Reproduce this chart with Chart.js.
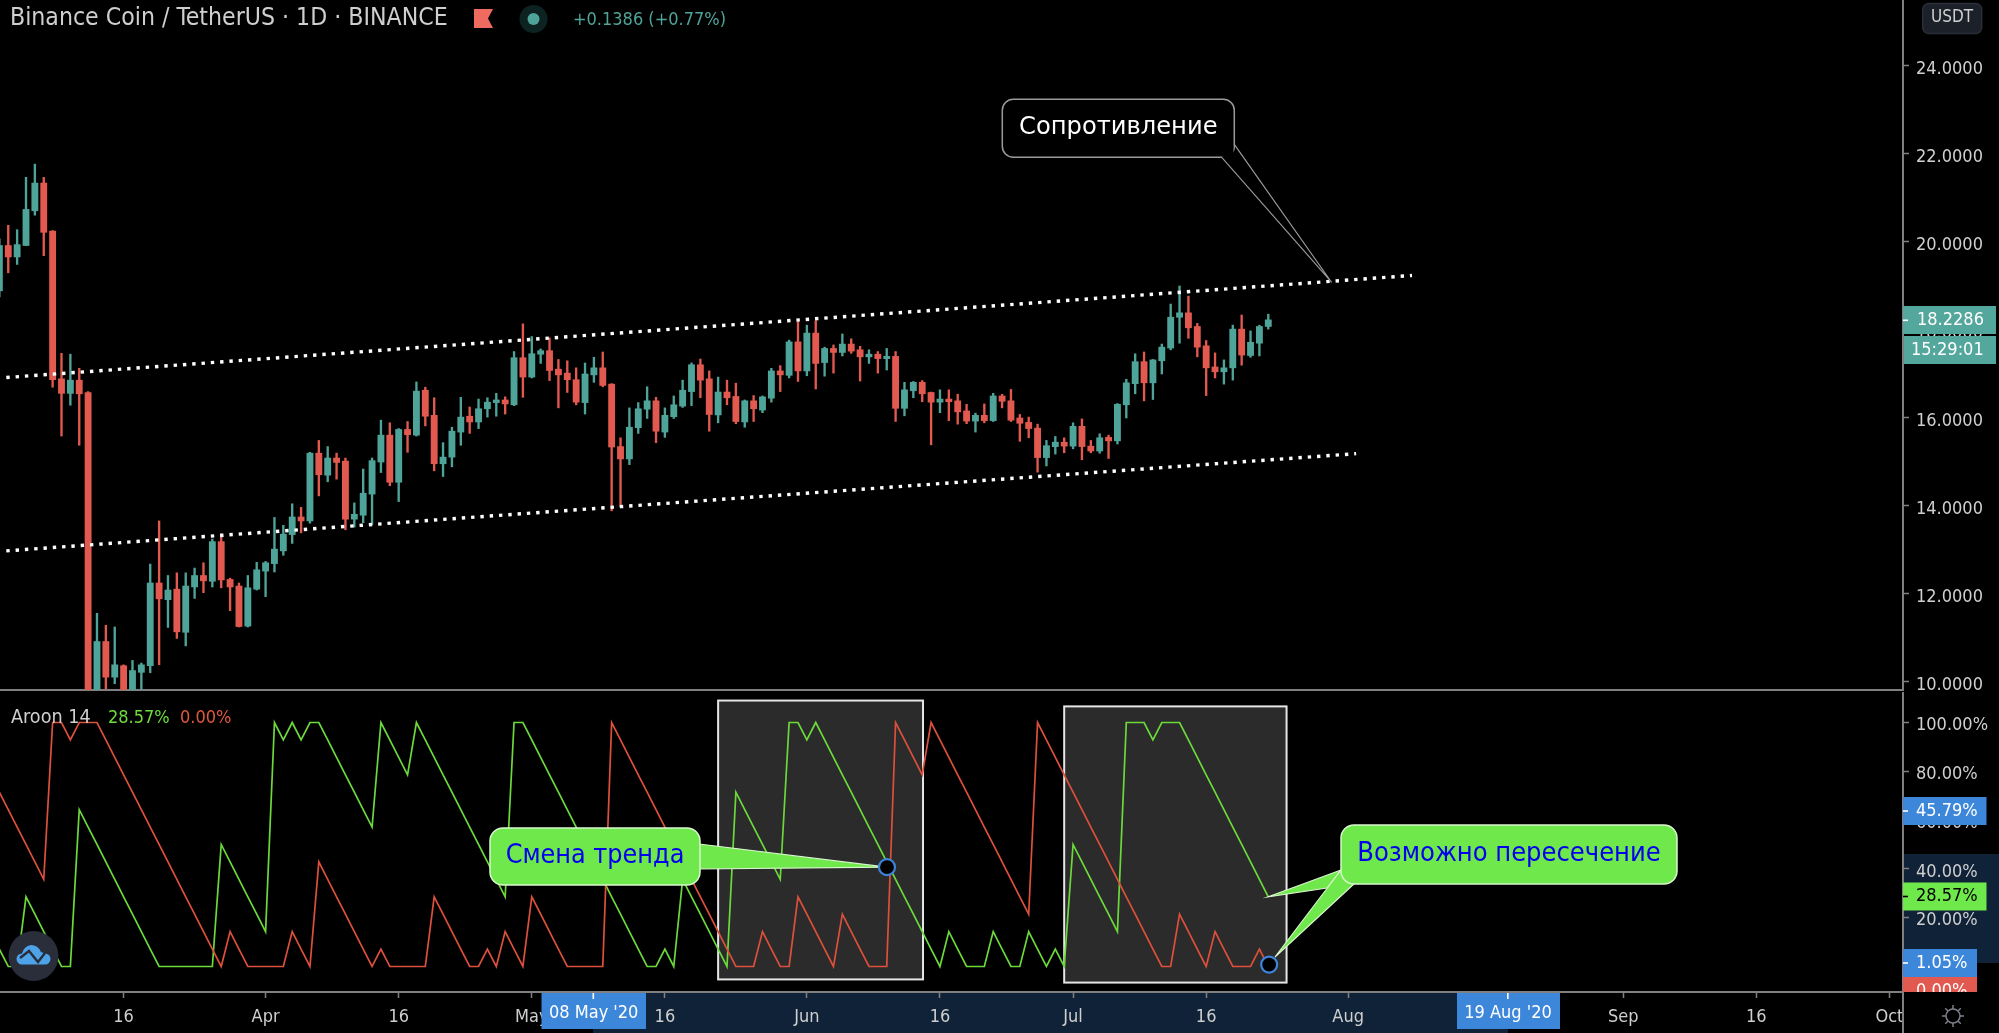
<!DOCTYPE html>
<html lang="ru">
<head>
  <meta charset="UTF-8" />
  <title>Binance Coin / TetherUS - Aroon 14</title>
  <script src="https://cdn.jsdelivr.net/npm/chart.js"></script>
  <style>
    html, body { margin: 0; padding: 0; background: #000; overflow: hidden; }
    canvas { position: absolute; left: 0; display: block; }
    #precio { top: 0; }
    #aroon { top: 692px; }
  </style>
</head>
<body>
  <canvas id="precio" width="1999" height="692"></canvas>
  <canvas id="aroon" width="1999" height="341"></canvas>

  <script>
    // days counted from 1 Apr 2020
    const days = [-30,-29,-28,-27,-26,-25,-24,-23,-22,-21,-20,-19,-18,-17,-16,-15,-14,-13,-12,-11,-10,-9,-8,-7,-6,-5,-4,-3,-2,-1,
      0,1,2,3,4,5,6,7,8,9,10,11,12,13,14,15,16,17,18,19,20,21,22,23,24,25,26,27,28,29,30,31,32,33,34,35,36,37,38,39,
      40,41,42,43,44,45,46,47,48,49,50,51,52,53,54,55,56,57,58,59,60,61,62,63,64,65,66,67,68,69,70,71,72,73,74,75,76,77,78,79,
      80,81,82,83,84,85,86,87,88,89,90,91,92,93,94,95,96,97,98,99,100,101,102,103,104,105,106,107,108,109,110,111,112,113];

    const opens = [18.89,19.92,19.66,19.92,20.71,21.34,20.25,16.89,16.56,16.86,
      16.58,8.8,10.92,10.11,10.37,9.6,10.22,10.37,12.25,11.87,
      12.11,11.13,12.16,12.42,12.29,13.19,12.33,12.18,11.27,12.11,
      12.52,12.69,12.98,13.35,13.75,13.66,15.20,14.70,15.09,15.02,
      13.70,13.79,14.27,15.00,15.61,14.54,15.74,15.61,16.63,16.06,
      14.96,15.11,15.68,16.04,15.91,16.21,16.35,16.41,16.30,17.37,
      16.93,17.45,17.53,17.11,17.02,16.87,16.35,16.98,17.14,16.77,
      15.35,15.07,15.78,16.20,16.39,15.68,16.03,16.27,16.60,17.21,
      16.89,16.07,16.59,16.49,15.91,16.39,16.18,16.45,17.07,16.97,
      17.73,17.07,17.93,17.26,17.58,17.49,17.68,17.55,17.39,17.45,
      17.35,17.40,16.22,16.62,16.81,16.58,16.36,16.43,16.39,16.16,
      15.93,16.06,15.94,16.50,16.39,16.00,15.90,15.77,15.10,15.35,
      15.45,15.36,15.81,15.36,15.25,15.56,15.48,16.30,16.78,17.28,
      16.80,17.30,17.59,18.29,18.39,18.08,17.64,17.16,17.05,17.14,
      18.02,17.42,17.70,18.08];
    const highs = [20.07,20.38,20.28,21.47,21.77,21.47,20.26,17.47,17.45,17.13,
      16.60,11.56,11.29,11.25,10.39,10.49,10.43,12.68,13.66,12.42,
      12.48,12.48,12.59,12.71,13.25,13.37,12.36,12.25,12.42,12.72,
      12.74,13.74,13.56,14.05,13.97,15.22,15.49,15.35,15.20,15.09,
      14.07,14.84,15.09,15.95,15.89,15.76,15.92,16.82,16.70,16.46,
      15.44,15.79,16.47,16.25,16.43,16.46,16.56,16.48,17.51,18.14,
      17.85,17.57,17.82,17.33,17.30,17.14,17.25,17.38,17.50,16.78,
      15.55,16.23,16.35,16.71,16.47,16.23,16.50,16.86,17.25,17.34,
      17.07,16.93,16.86,16.79,16.41,16.51,16.50,17.13,17.19,17.77,
      18.19,18.11,18.21,17.61,17.66,17.91,17.80,17.63,17.55,17.51,
      17.58,17.51,16.81,16.83,16.85,16.59,16.64,16.64,16.54,16.31,
      16.11,16.32,16.56,16.54,16.65,16.08,16.02,15.86,15.49,15.58,
      15.55,15.89,15.98,15.49,15.64,15.61,16.33,16.88,17.46,17.50,
      17.33,17.68,18.59,19.00,18.77,18.15,17.76,17.48,17.32,18.11,
      18.34,17.98,18.11,18.36];
    const lows = [18.75,19.30,19.49,19.92,20.61,19.69,16.70,15.59,16.29,15.38,
      8.0,8.4,9.84,9.96,9.4,9.3,9.6,10.21,10.39,11.24,
      10.99,10.82,11.90,12.03,12.16,12.14,11.62,11.25,11.25,12.09,
      11.94,12.50,12.88,13.15,13.39,13.61,14.23,14.55,14.61,13.46,
      13.52,13.62,13.58,14.76,14.46,14.10,15.22,15.59,15.82,14.80,
      14.67,14.89,15.38,15.65,15.76,16.02,16.04,16.09,16.28,16.47,
      16.91,17.24,16.85,16.23,16.58,16.30,16.09,16.81,16.71,13.89,
      13.98,14.94,15.65,15.99,15.44,15.56,15.99,16.24,16.28,16.46,
      15.70,15.89,16.30,15.87,15.79,15.92,16.12,16.36,16.60,16.91,
      16.83,16.96,16.66,16.95,17.02,17.41,17.47,16.84,17.24,17.02,
      17.09,15.92,16.05,16.46,16.37,15.39,16.12,15.94,15.86,15.87,
      15.68,15.89,15.92,16.23,15.92,15.47,15.55,14.77,14.91,15.18,
      15.21,15.30,15.05,15.21,15.20,15.08,15.41,16.00,16.55,16.39,
      16.42,17.00,17.55,17.70,17.81,17.39,16.51,16.91,16.77,16.86,
      17.20,17.38,17.41,18.02];
    const closes = [19.92,19.66,19.94,20.74,21.34,20.22,16.87,16.56,16.86,16.55,
      9.0,10.92,10.11,10.39,9.6,10.26,10.39,12.25,11.89,12.09,
      11.14,12.18,12.42,12.30,13.19,12.32,12.16,11.26,12.14,12.55,
      12.71,13.02,13.36,13.75,13.66,15.20,14.71,15.09,14.99,13.70,
      13.81,14.29,15.03,15.61,14.54,15.74,15.62,16.61,16.04,14.96,
      15.11,15.70,16.02,15.91,16.21,16.36,16.41,16.32,17.37,16.93,
      17.46,17.53,17.08,16.98,16.87,16.36,17.00,17.14,16.74,15.34,
      15.07,15.79,16.21,16.39,15.70,16.06,16.30,16.63,17.21,16.86,
      16.08,16.59,16.46,15.92,16.39,16.21,16.48,17.07,16.98,17.73,
      17.07,17.93,17.24,17.58,17.49,17.68,17.52,17.39,17.45,17.35,
      17.40,16.22,16.64,16.81,16.55,16.36,16.43,16.37,16.14,15.93,
      16.06,15.94,16.50,16.38,15.95,15.88,15.76,15.10,15.37,15.45,
      15.36,15.81,15.35,15.25,15.55,15.48,16.31,16.80,17.28,16.80,
      17.32,17.61,18.29,18.39,18.05,17.61,17.14,17.05,17.14,18.02,
      17.43,17.72,18.08,18.23];

    const aroonUp = [7.14,0,0,28.57,21.43,14.29,7.14,0,0,64.29,57.14,50,42.86,35.71,28.57,21.43,14.29,7.14,0,0,0,0,0,0,0,
      50,42.86,35.71,28.57,21.43,14.29,100,92.86,100,92.86,100,100,92.86,85.71,78.57,71.43,64.29,57.14,
      100,92.86,85.71,78.57,100,92.86,85.71,78.57,71.43,64.29,57.14,50,42.86,35.71,28.57,
      100,100,92.86,85.71,78.57,71.43,64.29,57.14,50,42.86,35.71,28.57,21.43,14.29,7.14,0,0,7.14,0,
      35.71,28.57,21.43,14.29,7.14,0,71.43,64.29,57.14,50,42.86,35.71,
      100,100,92.86,100,92.86,85.71,78.57,71.43,64.29,57.14,50,42.86,35.71,28.57,21.43,14.29,7.14,0,
      14.29,7.14,0,0,0,14.29,7.14,0,0,14.29,7.14,0,7.14,0,50,42.86,35.71,28.57,21.43,14.29,
      100,100,100,92.86,100,100,100,92.86,85.71,78.57,71.43,64.29,57.14,50,42.86,35.71,28.57];
    const aroonDown = [71.43,64.29,57.14,50,42.86,35.71,100,100,92.86,100,100,100,92.86,85.71,78.57,71.43,64.29,57.14,50,42.86,
      35.71,28.57,21.43,14.29,7.14,0,14.29,7.14,0,0,0,0,0,14.29,7.14,0,42.86,35.71,28.57,21.43,14.29,7.14,0,7.14,0,0,0,0,0,
      28.57,21.43,14.29,7.14,0,0,7.14,0,14.29,7.14,0,28.57,21.43,14.29,7.14,0,0,0,0,0,
      100,92.86,85.71,78.57,71.43,64.29,57.14,50,42.86,35.71,28.57,21.43,14.29,7.14,0,0,0,14.29,7.14,0,0,
      28.57,21.43,14.29,7.14,0,21.43,14.29,7.14,0,0,0,100,92.86,85.71,78.57,
      100,92.86,85.71,78.57,71.43,64.29,57.14,50,42.86,35.71,28.57,21.43,
      100,92.86,85.71,78.57,71.43,64.29,57.14,50,42.86,35.71,28.57,21.43,14.29,7.14,0,0,
      21.43,14.29,7.14,0,14.29,7.14,0,0,0,7.14,0];

    const tickDays = [-16,0,15,30,45,61,76,91,106,122,153,168,183];
    const tickLabels = ['16','Apr','16','May','16','Jun','16','Jul','16','Aug','Sep','16','Oct'];
    const priceTicks = [10,12,14,16,18,20,22,24];
    const aroonTicks = [20,40,60,80,100];

    // trend channel, [day, price] at both ends
    const resistDays = [-29.22, 129.2];
    const resistPrices = [16.92, 19.24];
    const supportDays = [-29.22, 122.9];
    const supportPrices = [12.98, 15.19];

    const GREEN = '#4fa499', RED = '#e2594f';
    const TEXT = '#cfcfcf', AXIS = '#808080';
    const FONT = '"DejaVu Sans Condensed", "DejaVu Sans"';
    const AROON_TOP = 692;
    const X_MIN = -29.93, X_MAX = 184.53;

    function box(ctx, x, y, w, h, r, fill, stroke, lw) {
      ctx.beginPath();
      ctx.roundRect(x, y, w, h, r);
      if (fill) { ctx.fillStyle = fill; ctx.fill(); }
      if (stroke) { ctx.strokeStyle = stroke; ctx.lineWidth = lw || 1.5; ctx.stroke(); }
    }
    function text(ctx, s, x, y, color, font, align) {
      ctx.font = font || '18px ' + FONT;
      ctx.fillStyle = color;
      ctx.textAlign = align || 'left';
      ctx.textBaseline = 'middle';
      ctx.fillText(s, x, y);
    }
    function tail(ctx, a, b, c, fill, stroke) {
      ctx.beginPath();
      ctx.moveTo(a[0], a[1]); ctx.lineTo(b[0], b[1]); ctx.lineTo(c[0], c[1]); ctx.closePath();
      if (fill) { ctx.fillStyle = fill; ctx.fill(); }
      ctx.strokeStyle = stroke; ctx.lineWidth = 1.2; ctx.stroke();
    }
    function dot(ctx, x, y) {
      ctx.beginPath(); ctx.arc(x, y, 8, 0, Math.PI * 2);
      ctx.fillStyle = '#000'; ctx.fill();
      ctx.strokeStyle = '#3b84d9'; ctx.lineWidth = 2.2; ctx.stroke();
    }
    function valueTag(ctx, s, y, right, bg, color) {
      ctx.fillStyle = bg;
      ctx.fillRect(1903, y - 14, right - 1903, 28);
      ctx.fillStyle = color;
      ctx.fillRect(1903, y - 0.8, 5, 1.6);
      text(ctx, s, 1916, y, color);
    }
    function noMargins(s) { s.paddingTop = 0; s.paddingBottom = 0; s.paddingLeft = 0; s.paddingRight = 0; }

    const headerPlugin = {
      id: 'header',
      afterDraw(chart) {
        const ctx = chart.ctx, sc = chart.scales;
        ctx.save();
        text(ctx, 'Binance Coin / TetherUS · 1D · BINANCE', 10, 19, TEXT, '24.6px ' + FONT);
        // flag
        ctx.fillStyle = '#ef6a5f';
        ctx.beginPath();
        ctx.moveTo(474, 9); ctx.lineTo(493, 9); ctx.lineTo(488, 18.5); ctx.lineTo(493, 28); ctx.lineTo(474, 28);
        ctx.closePath(); ctx.fill();
        // market status
        ctx.fillStyle = '#0d2321';
        ctx.beginPath(); ctx.arc(533.5, 19, 14, 0, Math.PI * 2); ctx.fill();
        ctx.fillStyle = GREEN;
        ctx.beginPath(); ctx.arc(533.5, 19, 6, 0, Math.PI * 2); ctx.fill();
        text(ctx, '+0.1386 (+0.77%)', 573, 20, GREEN);

        // callout on resistance
        const tip = [sc.x.getPixelForValue(120.15), sc.y.getPixelForValue(19.08)];
        tail(ctx, [1234.3, 144.3], tip, [1221.7, 157.3], '#000', '#9a9a9a');
        box(ctx, 1002.3, 99.3, 232, 58, 11, '#000', '#9a9a9a');
        ctx.fillStyle = '#000';
        ctx.fillRect(1222.5, 146, 11, 12);
        text(ctx, 'Сопротивление', 1118.3, 128, '#fff', '24.2px "DejaVu Sans"', 'center');

        // USDT button and last price tags
        box(ctx, 1922.7, 3.5, 59, 30, 6, '#1c2029', '#2a2e39');
        text(ctx, 'USDT', 1952, 18, TEXT, '17px ' + FONT, 'center');
        ctx.fillStyle = '#53a79c';
        ctx.fillRect(1903, 306, 93, 28);
        ctx.fillRect(1904, 336, 92, 28);
        ctx.fillStyle = '#fff';
        ctx.fillRect(1903, 319.5, 5, 1.6);
        text(ctx, '18.2286', 1917, 320.5, '#fff');
        text(ctx, '15:29:01', 1911, 350, '#fff');
        ctx.restore();
      }
    };

    const aroonPlugin = {
      id: 'aroonMarks',
      beforeDraw(chart) {
        const ctx = chart.ctx;
        ctx.save();
        ctx.fillStyle = '#0f2237';
        ctx.fillRect(593, 992 - AROON_TOP, 915, 41);
        ctx.fillRect(1903, 854 - AROON_TOP, 96, 109);
        ctx.restore();
      },
      beforeDatasetsDraw(chart) {
        const ctx = chart.ctx, sc = chart.scales;
        ctx.save();
        [[51, 74.09, 109, -5.3], [90, 115.06, 106.6, -6.6]].forEach(r => {
          const x0 = sc.x.getPixelForValue(r[0]), x1 = sc.x.getPixelForValue(r[1]);
          const y0 = sc.y.getPixelForValue(r[2]), y1 = sc.y.getPixelForValue(r[3]);
          ctx.fillStyle = '#2b2b2b';
          ctx.fillRect(x0, y0, x1 - x0, y1 - y0);
          ctx.strokeStyle = '#e6e6e6'; ctx.lineWidth = 2;
          ctx.strokeRect(x0, y0, x1 - x0, y1 - y0);
        });
        ctx.restore();
      },
      afterDraw(chart) {
        const ctx = chart.ctx, sc = chart.scales;
        const py = y => y - AROON_TOP;
        const CALL = '#6ee84a', EDGE = '#d9f7cd', BLUE = '#0000ee';
        ctx.save();

        // vertical axis runs down to the page bottom
        ctx.fillStyle = AXIS;
        ctx.fillRect(1902, py(992), 2, 41);

        // callout "Смена тренда"
        const p1 = [sc.x.getPixelForValue(70.03), sc.y.getPixelForValue(40.7)];
        tail(ctx, [699, py(844)], p1, [699, py(869)], CALL, EDGE);
        box(ctx, 490, py(828), 210, 57, 13, CALL, EDGE);
        text(ctx, 'Смена тренда', 595, py(856), BLUE, '26.7px ' + FONT, 'center');
        dot(ctx, p1[0], p1[1]);

        // callout "Возможно пересечение"
        const p2 = [sc.x.getPixelForValue(113), sc.y.getPixelForValue(28.57)];
        const p3 = [sc.x.getPixelForValue(113.1), sc.y.getPixelForValue(0.8)];
        tail(ctx, [1341, py(870)], p2, [1327, py(888)], CALL, EDGE);
        tail(ctx, [1341, py(870)], [1275, py(957)], [1354, py(884)], CALL, EDGE);
        box(ctx, 1341, py(825), 336, 59, 13, CALL, EDGE);
        text(ctx, 'Возможно пересечение', 1509, py(854), BLUE, '27px ' + FONT, 'center');
        dot(ctx, p3[0], p3[1]);

        // legend
        text(ctx, 'Aroon 14', 11, py(718), TEXT, '19.6px ' + FONT);
        text(ctx, '28.57%', 108, py(718), '#6fdc3d');
        text(ctx, '0.00%', 180, py(718), '#e0583f');

        // logo
        ctx.fillStyle = '#2a2d3a';
        ctx.beginPath(); ctx.arc(33.5, py(956), 25, 0, Math.PI * 2); ctx.fill();
        ctx.fillStyle = '#4ea3e8';
        ctx.beginPath();
        ctx.moveTo(22, py(964.5));
        ctx.arc(22, py(959), 5.5, Math.PI / 2, Math.PI * 1.5);
        ctx.quadraticCurveTo(24, py(946), 31, py(945));
        ctx.quadraticCurveTo(38, py(945), 41, py(952));
        ctx.arc(45, py(959), 5.5, -Math.PI / 2, Math.PI / 2);
        ctx.closePath(); ctx.fill();
        ctx.strokeStyle = '#2a2d3a'; ctx.lineWidth = 2.4;
        ctx.beginPath();
        ctx.moveTo(20, py(958)); ctx.lineTo(29, py(951)); ctx.lineTo(38, py(962)); ctx.lineTo(45, py(953));
        ctx.stroke();

        // value tags on the Aroon axis
        valueTag(ctx, '45.79%', py(811), 1986.5, '#3d87db', '#fff');
        valueTag(ctx, '28.57%', py(896.5), 1986.5, CALL, '#000');
        ctx.fillStyle = RED;
        ctx.save();
        ctx.beginPath(); ctx.rect(1903, py(977), 96, 15); ctx.clip();
        ctx.fillRect(1903, py(977), 74, 28);
        text(ctx, '0.00%', 1916, py(991), '#fff');
        ctx.restore();
        valueTag(ctx, '1.05%', py(963), 1977, '#3d87db', '#fff');

        // crosshair date labels
        ctx.fillStyle = '#3d87db';
        ctx.fillRect(541.5, py(993), 104.5, 36);
        ctx.fillRect(1457, py(993), 103, 36);
        ctx.fillStyle = '#fff';
        ctx.fillRect(592.5, py(993), 1.6, 6);
        ctx.fillRect(1507, py(993), 1.6, 6);
        text(ctx, "08 May '20", 593.7, py(1013), '#fff', '18px ' + FONT, 'center');
        text(ctx, "19 Aug '20", 1508, py(1013), '#fff', '18px ' + FONT, 'center');

        // settings gear
        ctx.strokeStyle = '#7d808b'; ctx.lineWidth = 1.5;
        ctx.beginPath(); ctx.arc(1953, py(1016), 7, 0, Math.PI * 2); ctx.stroke();
        for (let i = 0; i < 8; i++) {
          const a = i * Math.PI / 4;
          ctx.beginPath();
          ctx.moveTo(1953 + Math.cos(a) * 7, py(1016) + Math.sin(a) * 7);
          ctx.lineTo(1953 + Math.cos(a) * 11, py(1016) + Math.sin(a) * 11);
          ctx.stroke();
        }
        ctx.restore();
      }
    };

    const baseOptions = { responsive: false, animation: false, devicePixelRatio: 1, events: [],
      layout: { padding: 0 }, plugins: { legend: { display: false }, tooltip: { enabled: false } } };

    const candleColors = closes.map((c, i) => c >= opens[i] ? GREEN : RED);
    // empty first line pushes the label a little below its tick mark
    const yFont = { family: FONT, size: 18, lineHeight: '6px' };

    new Chart(document.getElementById('precio'), {
      type: 'bar',
      data: {
        datasets: [
          { label: 'Resist', type: 'line', order: 1, data: resistDays.map((d, i) => ({ x: d, y: resistPrices[i] })),
            borderColor: '#fff', borderWidth: 3.4, borderDash: [3.4, 5.92], pointRadius: 0, tension: 0 },
          { label: 'Support', type: 'line', order: 1, data: supportDays.map((d, i) => ({ x: d, y: supportPrices[i] })),
            borderColor: '#fff', borderWidth: 3.4, borderDash: [3.4, 5.92], pointRadius: 0, tension: 0 },
          { label: 'Body', order: 2, grouped: false, barThickness: 6.2, borderWidth: 0, borderSkipped: false,
            data: days.map((d, i) => ({ x: d, y: [opens[i], closes[i]] })), backgroundColor: candleColors },
          { label: 'Wick', order: 3, grouped: false, barThickness: 1.7, borderWidth: 0, borderSkipped: false,
            data: days.map((d, i) => ({ x: d, y: [lows[i], highs[i]] })), backgroundColor: candleColors }
        ]
      },
      options: {
        ...baseOptions,
        scales: {
          x: { type: 'linear', min: X_MIN, max: X_MAX, offset: false,
            grid: { display: false, drawTicks: false },
            border: { color: AXIS, width: 2 },
            ticks: { display: false },
            afterFit: s => { noMargins(s); s.height = 2; } },
          y: { position: 'right', min: 9.818, max: 25.5,
            grid: { drawOnChartArea: false, tickLength: 6, tickColor: AXIS, tickWidth: 1.5 },
            border: { color: AXIS, width: 2 },
            afterBuildTicks: s => { s.ticks = priceTicks.map(v => ({ value: v })); },
            ticks: { color: TEXT, font: yFont, padding: 7, callback: v => ['', v.toFixed(4)] },
            afterFit: s => { noMargins(s); s.width = 96; } }
        }
      },
      plugins: [headerPlugin]
    });

    new Chart(document.getElementById('aroon'), {
      type: 'line',
      data: {
        datasets: [
          { label: 'Aroon Down', data: days.map((d, i) => ({ x: d, y: aroonDown[i] })),
            borderColor: '#dc503c', borderWidth: 1.7, pointRadius: 0, tension: 0 },
          { label: 'Aroon Up', data: days.map((d, i) => ({ x: d, y: aroonUp[i] })),
            borderColor: '#6cd93b', borderWidth: 1.7, pointRadius: 0, tension: 0 }
        ]
      },
      options: {
        ...baseOptions,
        scales: {
          x: { type: 'linear', min: X_MIN, max: X_MAX, offset: false,
            grid: { drawOnChartArea: false, tickLength: 6, tickColor: AXIS, tickWidth: 1.5 },
            border: { color: AXIS, width: 2 },
            afterBuildTicks: s => { s.ticks = tickDays.map(v => ({ value: v })); },
            ticks: { color: TEXT, font: { family: FONT, size: 18 }, padding: 9, autoSkip: false, maxRotation: 0,
              callback: v => tickLabels[tickDays.indexOf(v)] },
            afterFit: s => { noMargins(s); s.height = 41; } },
          y: { position: 'right', min: -10.46, max: 112.5,
            grid: { drawOnChartArea: false, tickLength: 6, tickColor: AXIS, tickWidth: 1.5 },
            border: { color: AXIS, width: 2 },
            afterBuildTicks: s => { s.ticks = aroonTicks.map(v => ({ value: v })); },
            ticks: { color: TEXT, font: yFont, padding: 7, callback: v => ['', v.toFixed(2) + '%'] },
            afterFit: s => { noMargins(s); s.width = 96; } }
        }
      },
      plugins: [aroonPlugin]
    });
  </script>
</body>
</html>
